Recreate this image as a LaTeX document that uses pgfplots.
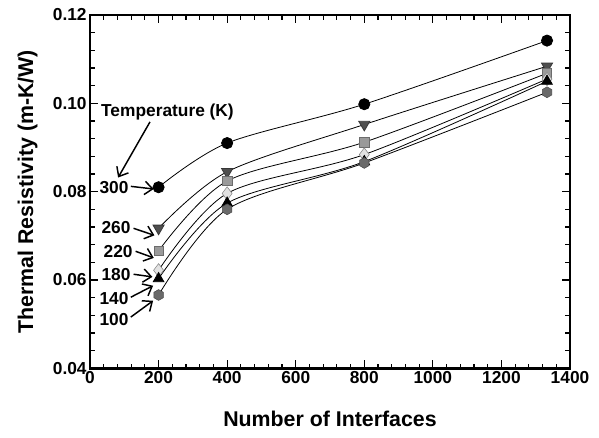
\documentclass[border=0pt]{standalone}
\usepackage{pgfplots}
\pgfplotsset{compat=1.18}
\usepackage{fontspec}
\setmainfont{Liberation Sans}
\usetikzlibrary{arrows.meta}

% filled hexagon mark
\pgfdeclareplotmark{hexagon*}{%
  \pgfpathmoveto{\pgfqpointpolar{90}{1.1\pgfplotmarksize}}%
  \pgfpathlineto{\pgfqpointpolar{150}{1.1\pgfplotmarksize}}%
  \pgfpathlineto{\pgfqpointpolar{210}{1.1\pgfplotmarksize}}%
  \pgfpathlineto{\pgfqpointpolar{270}{1.1\pgfplotmarksize}}%
  \pgfpathlineto{\pgfqpointpolar{330}{1.1\pgfplotmarksize}}%
  \pgfpathlineto{\pgfqpointpolar{30}{1.1\pgfplotmarksize}}%
  \pgfpathclose
  \pgfusepathqfillstroke}

\definecolor{c260}{HTML}{4F4F4F}
\definecolor{c220}{HTML}{9A9A9A}
\definecolor{c180}{HTML}{E2E2E2}
\definecolor{c100}{HTML}{6A6A6A}

\begin{document}
\begin{tikzpicture}
\begin{axis}[
  name=ax,
  scale only axis,
  width=360pt, height=265pt,
  xmin=0, xmax=1400,
  ymin=0.04, ymax=0.12,
  xtick={0,200,...,1400},
  ytick={0.04,0.06,...,0.12},
  minor x tick num=4,
  minor y tick num=4,
  tick align=inside,
  major tick length=6pt,
  minor tick length=3.5pt,
  tick style={black, line width=0.9pt},
  axis line style={line width=2.2pt},
  every tick label/.append style={font=\fontsize{13}{15}\selectfont\bfseries},
  /pgf/number format/assume math mode=true,
  /pgf/number format/1000 sep={},
  y tick label style={xshift=1pt, /pgf/number format/.cd, fixed, fixed zerofill, precision=2},
  x tick label style={yshift=1pt},
  xlabel={Number of Interfaces},
  ylabel={Thermal Resistivity (m-K/W)},
  label style={font=\fontsize{16}{18}\selectfont\bfseries},
  xlabel style={anchor=center, at={(axis description cs:0.5,-0.142)}},
  ylabel style={anchor=center, at={(axis description cs:-0.13,0.5)}},
  every axis plot/.append style={black, line width=0.6pt, smooth},
]
% 300 K
\addplot[mark=*, mark size=4.2pt, mark options={fill=black, draw=black}]
  coordinates {(200,0.0810) (400,0.0910) (800,0.0998) (1333,0.1142)};
% 260 K
\addplot[mark=triangle*, mark size=4.8pt, mark options={rotate=180, fill=c260, draw=c260!70!black}]
  coordinates {(200,0.0717) (400,0.0845) (800,0.0952) (1333,0.1084)};
% 220 K
\addplot[mark=square*, mark size=3.5pt, mark options={fill=c220, draw=c220!70!black, line width=0.4pt}]
  coordinates {(200,0.0666) (400,0.0824) (800,0.0912) (1333,0.1068)};
% 180 K
\addplot[mark=diamond*, mark size=5pt, mark options={fill=c180, draw=gray, line width=0.4pt}]
  coordinates {(200,0.0622) (400,0.0796) (800,0.0884) (1333,0.1055)};
% 140 K
\addplot[mark=triangle*, mark size=4.6pt, mark options={fill=black, draw=black}]
  coordinates {(200,0.0603) (400,0.0774) (800,0.0868) (1333,0.1050)};
% 100 K
\addplot[mark=hexagon*, mark size=3.7pt, mark options={fill=c100, draw=c100!70!black, line width=0.4pt}]
  coordinates {(200,0.0566) (400,0.0760) (800,0.0865) (1333,0.1025)};

% annotations
\begin{scope}[every node/.style={font=\fontsize{13}{15}\selectfont\bfseries},
              arr/.style={line width=1.1pt, -{Straight Barb[length=6pt, width=10pt, line width=1.1pt]}}]
\node at (axis cs:226,0.0981) {Temperature (K)};
\draw[arr] (axis cs:175,0.0958) -- (axis cs:82,0.0832);
\node at (axis cs:70,0.0809) {300};
\draw[arr] (axis cs:119,0.0812) -- (axis cs:186,0.0806);
\node at (axis cs:76,0.0719) {260};
\draw[arr] (axis cs:127,0.0717) -- (axis cs:188,0.0701);
\node at (axis cs:82,0.0665) {220};
\draw[arr] (axis cs:133,0.0665) -- (axis cs:186,0.0650);
\node at (axis cs:76,0.0613) {180};
\draw[arr] (axis cs:127,0.0613) -- (axis cs:182,0.0607);
\node at (axis cs:70,0.0557) {140};
\draw[arr] (axis cs:119,0.0561) -- (axis cs:184,0.0587);
\node at (axis cs:70,0.0511) {100};
\draw[arr] (axis cs:119,0.0516) -- (axis cs:184,0.0553);
\end{scope}
\end{axis}
\pgfresetboundingbox
\path ([shift={(-67.5pt,-51.75pt)}]ax.south west) rectangle ([shift={(21.75pt,11.25pt)}]ax.north east);
\end{tikzpicture}
\end{document}
